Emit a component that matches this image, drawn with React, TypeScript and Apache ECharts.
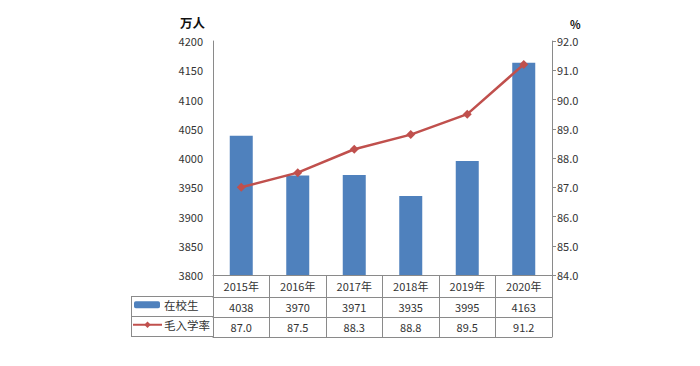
import React, { useEffect, useRef } from "react";
import * as echarts from "echarts";

const categories = ["2015年", "2016年", "2017年", "2018年", "2019年", "2020年"];
const enrollment = [4038, 3970, 3971, 3935, 3995, 4163];
const grossRate = [87.0, 87.5, 88.3, 88.8, 89.5, 91.2];
const leftAxis = { min: 3800, max: 4200, interval: 50 };
const rightAxis = { min: 84, max: 92, interval: 1 };

const FONT = "'Noto Sans CJK SC', 'Noto Sans', sans-serif";
const TEXT = "#333333";
const LINE = "#8a8a8a";
const BAR = "#4F81BD";
const RED = "#C0504D";

export default function App() {
  const ref = useRef<HTMLDivElement>(null);
  useEffect(() => {
    if (!ref.current) return;
    const chart = echarts.init(ref.current, undefined, { renderer: "svg" });
    const tableAxis = (data: string[], offset: number, tickLen: number, showLabel: boolean) => ({
      type: "category",
      data,
      position: "bottom",
      offset,
      boundaryGap: true,
      axisLine: { show: true, lineStyle: { color: LINE, width: 1 } },
      axisTick: { show: true, inside: true, length: tickLen, interval: 0, lineStyle: { color: LINE } },
      axisLabel: { show: showLabel, interval: 0, margin: 4, fontSize: 11, color: TEXT, fontFamily: FONT },
      splitLine: { show: false },
    });
    chart.setOption({
      animation: false,
      textStyle: { fontFamily: FONT },
      grid: { left: 213, right: 148, top: 41, bottom: 91, containLabel: false },
      legend: [
        {
          data: ["在校生"],
          left: 134,
          top: 299,
          itemWidth: 26,
          itemHeight: 7,
          selectedMode: false,
          padding: 0,
          itemGap: 4,
          textStyle: { fontSize: 11.5, color: TEXT, fontFamily: FONT, padding: [0, 0, 0, -1] },
        },
        {
          data: ["毛入学率"],
          left: 132,
          top: 319,
          itemWidth: 29,
          itemHeight: 8,
          selectedMode: false,
          padding: 0,
          textStyle: { fontSize: 11.5, color: TEXT, fontFamily: FONT, padding: [0, 0, 0, -3] },
        },
      ],
      xAxis: [
        {
          type: "category",
          data: categories,
          position: "bottom",
          boundaryGap: true,
          axisLine: { show: true, lineStyle: { color: LINE, width: 1 } },
          axisTick: { show: false },
          axisLabel: { interval: 0, margin: 5, fontSize: 11, color: TEXT, fontFamily: FONT },
        },
        tableAxis(enrollment.map((v) => String(v)), 22, 22, true),
        tableAxis(grossRate.map((v) => v.toFixed(1)), 42, 20, true),
        tableAxis(categories.map(() => ""), 62, 20, false),
      ],
      yAxis: [
        {
          type: "value",
          min: leftAxis.min,
          max: leftAxis.max,
          interval: leftAxis.interval,
          name: "万人",
          nameLocation: "end",
          nameGap: 12,
          nameTextStyle: { fontSize: 12.5, fontWeight: "bold", color: "#111", align: "right", padding: [0, 8, 0, 0], fontFamily: FONT },
          axisLine: { show: true, lineStyle: { color: LINE } },
          axisTick: { show: false },
          axisLabel: { margin: 10, fontSize: 11, color: TEXT, fontFamily: FONT, formatter: (v: number) => String(v) },
          splitLine: { show: false },
        },
        {
          type: "value",
          min: rightAxis.min,
          max: rightAxis.max,
          interval: rightAxis.interval,
          position: "right",
          name: "%",
          nameLocation: "end",
          nameGap: 12,
          nameTextStyle: { fontSize: 11, fontWeight: "bold", color: "#111", align: "left", padding: [0, 0, 0, 18], fontFamily: FONT },
          axisLine: { show: true, lineStyle: { color: LINE } },
          axisTick: { show: true, inside: false, length: 4, lineStyle: { color: LINE } },
          axisLabel: { margin: 5, fontSize: 11, color: TEXT, fontFamily: FONT, formatter: (v: number) => v.toFixed(1) },
          splitLine: { show: false },
        },
      ],
      series: [
        {
          name: "在校生",
          type: "bar",
          data: enrollment,
          xAxisIndex: 0,
          yAxisIndex: 0,
          barWidth: 23,
          itemStyle: { color: BAR },
        },
        {
          name: "毛入学率",
          type: "line",
          data: grossRate,
          xAxisIndex: 0,
          yAxisIndex: 1,
          symbol: "diamond",
          symbolSize: 9,
          lineStyle: { color: RED, width: 2.5 },
          itemStyle: { color: RED },
        },
      ],
      graphic: [
        { type: "line", shape: { x1: 131, y1: 296.5, x2: 213, y2: 296.5 }, style: { stroke: LINE, lineWidth: 1 } },
        { type: "line", shape: { x1: 131, y1: 316.5, x2: 213, y2: 316.5 }, style: { stroke: LINE, lineWidth: 1 } },
        { type: "line", shape: { x1: 131, y1: 336.5, x2: 213, y2: 336.5 }, style: { stroke: LINE, lineWidth: 1 } },
        { type: "line", shape: { x1: 131.5, y1: 296, x2: 131.5, y2: 337 }, style: { stroke: LINE, lineWidth: 1 } },
      ],
    });
    return () => chart.dispose();
  }, []);
  return (
    <div
      ref={ref}
      style={{ position: "fixed", left: 0, top: 0, width: 700, height: 366, background: "#fff" }}
    />
  );
}
